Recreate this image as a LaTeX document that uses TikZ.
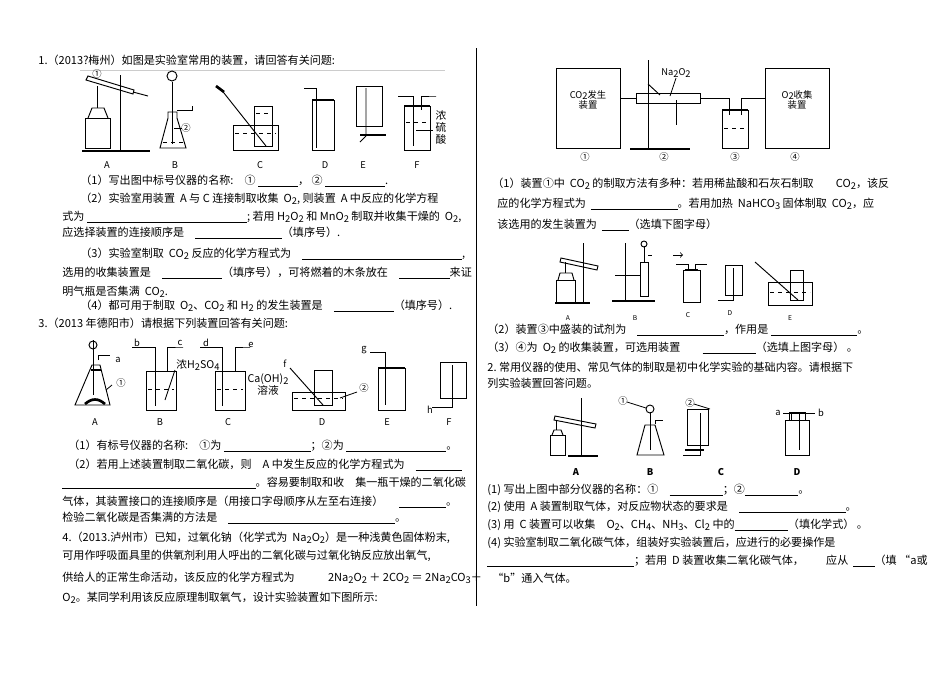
\documentclass[tikz,border=0pt]{standalone}
\usepackage{fontspec}
\setmainfont{Noto Sans CJK SC}
\newcommand{\sbs}[1]{\raisebox{-0.35ex}{\scriptsize #1}}
\newcommand{\blank}[1]{\rule[-1.5pt]{#1pt}{0.4pt}}
\begin{document}
\begin{tikzpicture}[x=0.75pt,y=-0.75pt,line width=0.6pt,
  t/.style={anchor=west,inner sep=0pt,font=\fontsize{8.3pt}{9pt}\selectfont},
  lb/.style={inner sep=0pt,font=\fontsize{7pt}{8pt}\selectfont},
  app/.style={draw=black,line width=0.7pt},
  liq/.style={draw=black,line width=0.3pt,dashed}]
\useasboundingbox (0,0) rectangle (950,672);
\draw[line width=0.6pt] (476,48) -- (476,606);
% ---------- left column text ----------
\node[t] (l1) at (38,60) {1.（2013?梅州）如图是实验室常用的装置，请回答有关问题:};
\draw[gray!40] (80,70) -- (445,70);
\node[t] at (80,181) {（1）写出图中标号仪器的名称:\quad ① \blank{30}， ② \blank{45}.};
\node[t] at (80,199) {（2）实验室用装置\ \ A 与 C 连接制取收集\ \ O\sbs2, 则装置\ \ A 中反应的化学方程};
\node[t] at (62,217) {式为 \blank{120}; 若用 H\sbs2O\sbs2 和 MnO\sbs2 制取并收集干燥的\ \ O\sbs2,};
\node[t] at (62,233) {应选择装置的连接顺序是\quad \blank{65}（填序号）.};
\node[t] at (80,254) {（3）实验室制取\ \ CO\sbs2 反应的化学方程式为\quad \blank{120},};
\node[t] at (62,273) {选用的收集装置是\quad \blank{45}（填序号），可将燃着的木条放在\quad \blank{38}来证};
\node[t] at (62,292) {明气瓶是否集满\ \ CO\sbs2.};
\node[t] at (80,306) {（4）都可用于制取\ \ O\sbs2、CO\sbs2 和 H\sbs2 的发生装置是\quad \blank{45}（填序号）.};
\node[t] at (38,323) {3.（2013 年德阳市）请根据下列装置回答有关问题:};
\node[t] at (68,446) {（1）有标号仪器的名称:\quad ①为 \blank{65}；②为 \blank{75}。};
\node[t] at (68,465) {（2）若用上述装置制取二氧化碳，则\quad A 中发生反应的化学方程式为\quad \blank{35}};
\node[t] at (62,483) {\blank{145}。容易要制取和收\quad 集一瓶干燥的二氧化碳};
\node[t] at (62,502) {气体，其装置接口的连接顺序是（用接口字母顺序从左至右连接）\quad\ \ \blank{35}。};
\node[t] at (62,518) {检验二氧化碳是否集满的方法是\quad \blank{125}。};
\node[t] at (62,538) {4.（2013.泸州市）已知，过氧化钠（化学式为\ \ Na\sbs2O\sbs2）是一种浅黄色固体粉末,};
\node[t] at (62,556) {可用作呼吸面具里的供氧剂利用人呼出的二氧化碳与过氧化钠反应放出氧气,};
\node[t] at (62,578) {供给人的正常生命活动，该反应的化学方程式为\qquad\quad 2Na\sbs2O\sbs2 ＋ 2CO\sbs2 ＝ 2Na\sbs2CO\sbs3＋};
\node[t] at (62,598) {O\sbs2。某同学利用该反应原理制取氧气，设计实验装置如下图所示:};
% ---------- figure 1 ----------
\draw[app] (120,75) -- (120,150); \draw[app,line width=1.5pt] (82,151) -- (150,151);
\draw[app] (85,118) rectangle (110,148); \draw[app] (88,118) -- (92,108) -- (104,108) -- (108,118);
\draw[app] (86,80) -- (133,94) -- (134,90) -- (88,76) -- cycle; \draw[app] (133,92) -- (148,96);
\draw[app] (97,86) -- (97,108); \node[lb] at (97,74) {①};
\node[lb] at (107,165) {A};
\draw[app] (168,118) -- (168,112) -- (177,112) -- (177,118) -- (186,148) -- (160,148) -- (168,118);
\draw[app] (172,82) -- (172,144); \draw[app] (172,76) circle (5);
\draw[app] (177,110) -- (192,110) -- (192,106);
\draw[liq] (163,142) -- (183,142); \draw (174,128) -- (182,128); \node[lb] at (186,128) {②};
\node[lb] at (175,165) {B};
\draw[app] (233,125) rectangle (278,150); \draw[liq] (235,133) -- (276,133);
\draw[app] (254,106) rectangle (272,146); \draw[liq] (256,113) -- (270,113);
\draw[app] (220,88) -- (266,146); \draw[app,line width=2pt] (216,86) -- (224,92);
\node[lb] at (260,165) {C};
\draw[app] (312,100) rectangle (334,150); \draw[app,line width=1.5pt] (312,100) -- (334,100);
\draw[app] (304,88) -- (316,88) -- (316,148);
\node[lb] at (325,165) {D};
\draw[app] (356,86) rectangle (382,126); \draw[app] (366,88) -- (366,136) -- (360,142);
\draw[app,line width=1.5pt] (360,135) -- (386,135);
\node[lb] at (363,165) {E};
\draw[app] (404,106) rectangle (430,150); \draw[app,line width=1.5pt] (404,106) -- (430,106);
\draw[app] (398,96) -- (413,96) -- (413,146); \draw[app] (421,96) -- (436,96) -- (421,96) -- (421,110);
\draw[liq] (406,122) -- (428,122); \draw (416,130) -- (433,130);
\node[lb,font=\fontsize{8pt}{9pt}\selectfont,align=center] at (441,127) {浓\\硫\\酸};
\node[lb] at (417,165) {F};
% ---------- figure 3 ----------
\draw[app] (92,365) -- (75,405) -- (110,405) -- (100,365) -- cycle;
\draw[app,line width=2pt] (91,370) -- (101,370);
\draw[app] (93,340) -- (93,395); \draw[app] (93,345) circle (4); \draw[app] (98,360) -- (98,355) -- (110,355);
\draw[app,line width=2pt] (85,404) .. controls (92,398) and (98,398) .. (105,404);
\node[lb] at (118,360) {a}; \node[lb] at (121,383) {①}; \draw (112,385) -- (106,390);
\node[lb] at (95,422) {A};
\draw[app] (146,371) rectangle (176,410); \draw[liq] (148,389) -- (174,389);
\draw[app] (132,347) -- (155,347) -- (155,406); \draw[app] (167,347) -- (183,347) -- (167,347) -- (167,371);
\node[lb] at (137,343) {b}; \node[lb] at (180,343) {c}; \node[lb,font=\fontsize{8pt}{9pt}\selectfont] at (198,365) {浓H\sbs2SO\sbs4};
\draw (175,370) -- (165,400);
\node[lb] at (160,422) {B};
\draw[app] (215,371) rectangle (245,410); \draw[liq] (217,389) -- (243,389);
\draw[app] (200,347) -- (222,347) -- (222,406); \draw[app] (235,347) -- (250,347) -- (235,347) -- (235,371);
\node[lb] at (206,343) {d}; \node[lb] at (251,345) {e};
\node[lb,font=\fontsize{8pt}{9pt}\selectfont,align=center] at (268,385) {Ca(OH)\sbs2\\溶液};
\node[lb] at (228,422) {C};
\draw[app] (292,392) rectangle (345,410); \draw[liq] (294,398) -- (343,398);
\draw[app] (314,370) rectangle (332,405); \draw[app] (290,368) -- (323,405);
\node[lb] at (285,364) {f}; \node[lb] at (364,388) {②}; \draw (357,392) -- (340,398);
\node[lb] at (322,422) {D};
\draw[app] (378,368) rectangle (405,410); \draw[app,line width=1.5pt] (378,368) -- (405,368);
\draw[app] (370,352) -- (385,352) -- (385,405); \node[lb] at (364,350) {g};
\node[lb] at (387,422) {E};
\draw[app] (440,362) rectangle (466,398); \draw[app] (452,365) -- (452,407) -- (432,407);
\node[lb] at (430,410) {h}; \node[lb] at (449,422) {F};
% ---------- right column figure top ----------
\draw[app] (556,68) rectangle (620,148);
\node[lb,align=center,font=\fontsize{7pt}{8pt}\selectfont] at (588,100) {CO\sbs2发生\\装置};
\draw[app] (765,68) rectangle (829,148);
\node[lb,align=center,font=\fontsize{7pt}{8pt}\selectfont] at (797,100) {O\sbs2收集\\装置};
\draw[app] (620,98) -- (636,98); \draw[app] (636,93) rectangle (700,103); \draw[app] (700,98) -- (729,98) -- (729,115);
\draw[app] (741,115) -- (741,98) -- (765,98);
\draw[app] (648,60) -- (648,148); \draw[app,line width=1.5pt] (630,149) -- (690,149);
\draw[app] (648,84) -- (660,95); \draw[app] (676,100) -- (676,125);
\node[lb] at (676,73) {Na\sbs2O\sbs2}; \draw (676,78) -- (670,96);
\draw[app] (722,110) rectangle (748,148); \draw[app,line width=1.8pt] (722,110) -- (748,110); \draw[liq] (724,128) -- (746,128);
\node[lb] at (585,157) {①}; \node[lb] at (664,157) {②}; \node[lb] at (735,157) {③}; \node[lb] at (795,157) {④};
\node[t] at (492,184) {（1）装置①中\ \ CO\sbs2 的制取方法有多种：若用稀盐酸和石灰石制取\qquad CO\sbs2，该反};
\node[t] at (497,204) {应的化学方程式为\ \ \blank{65}。若用加热\ \ NaHCO\sbs3 固体制取\ \ CO\sbs2，应};
\node[t] at (497,225) {该选用的发生装置为\ \ \blank{20}（选填下图字母）};
% right middle figure
\draw[app] (583,243) -- (583,302); \draw[app,line width=1.2pt] (555,303) -- (590,303);
\draw[app] (556,280) rectangle (575,302); \draw[app] (558,280) -- (560,273) -- (572,273) -- (574,280);
\draw[app] (560,262) -- (597,270) -- (598,266) -- (561,258) -- cycle; \draw[app] (565,262) -- (565,273);
\node[lb,font=\fontsize{5pt}{6pt}\selectfont] at (568,318) {A};
\draw[app] (625,243) -- (625,300); \draw[app,line width=1.2pt] (612,301) -- (655,301);
\draw[app] (640,262) rectangle (648,296); \draw[app] (644,246) -- (644,262); \draw[app] (644,244) circle (3);
\draw[app] (615,275) -- (640,275); \draw[app] (648,255) -- (652,255);
\node[lb,font=\fontsize{5pt}{6pt}\selectfont] at (635,318) {B};
\draw[app] (683,270) rectangle (700,302); \draw[app,line width=2pt] (685,270) -- (698,270);
\draw[app] (676,264) -- (688,264) -- (688,270); \draw[app] (695,270) -- (695,264) -- (707,264);
\draw[->] (673,255) -- (683,255);
\node[lb,font=\fontsize{5pt}{6pt}\selectfont] at (688,315) {C};
\draw[app] (725,265) rectangle (742,295); \draw[app] (733,268) -- (733,300) -- (718,300);
\node[lb,font=\fontsize{5pt}{6pt}\selectfont] at (730,313) {D};
\draw[app] (768,282) rectangle (812,305); \draw[liq] (770,292) -- (810,292);
\draw[app] (790,270) rectangle (803,300); \draw[app] (755,262) -- (798,300);
\node[lb,font=\fontsize{5pt}{6pt}\selectfont] at (790,318) {E};
\node[t] at (487,330) {（2）装置③中盛装的试剂为\quad \blank{65}，作用是\ \blank{65}。};
\node[t] at (487,348) {（3）④为\ \ O\sbs2 的收集装置，可选用装置\qquad \blank{40}（选填上图字母）\ 。};
\node[t] at (487,367) {2.\ 常用仪器的使用、常见气体的制取是初中化学实验的基础内容。请根据下};
\node[t] at (487,383) {列实验装置回答问题。};
% right bottom figure
\draw[app] (581,398) -- (581,455); \draw[app,line width=1.5pt] (568,456) -- (598,456);
\draw[app] (550,435) rectangle (565,455); \draw[app] (552,435) -- (554,430) -- (561,430) -- (563,435);
\draw[app] (554,420) -- (595,428) -- (596,424) -- (555,416) -- cycle; \draw[app] (556,420) -- (556,430);
\node[lb,font=\fontsize{7pt}{8pt}\selectfont\bfseries] at (576,472) {A};
\draw[app] (645,425) -- (637,455) -- (664,455) -- (655,425) -- cycle;
\draw[app] (650,412) -- (650,450); \draw[app] (650,409) circle (4); \draw[app] (655,424) -- (655,420) -- (663,420);
\node[lb] at (623,401) {①}; \draw (627,402) -- (646,408);
\node[lb,font=\fontsize{7pt}{8pt}\selectfont\bfseries] at (650,472) {B};
\draw[app] (687,409) rectangle (708,445); \draw[app] (700,413) -- (700,455) -- (683,455);
\draw[app,line width=1.5pt] (685,450) -- (704,450);
\node[lb] at (690,403) {②}; \draw (694,404) -- (710,409);
\node[lb,font=\fontsize{7pt}{8pt}\selectfont\bfseries] at (721,472) {C};
\draw[app] (785,420) rectangle (809,455); \draw[app] (789,412) rectangle (805,420);
\draw[app] (783,413) -- (803,413); \draw[app] (791,413) -- (791,420); \draw[app] (799,413) -- (815,413); \draw[app] (799,413) -- (799,450);
\node[lb] at (778,413) {a}; \node[lb] at (821,413) {b};
\node[lb,font=\fontsize{7pt}{8pt}\selectfont\bfseries] at (797,472) {D};
\node[t] at (487,490) {(1)\ 写出上图中部分仪器的名称：①\quad \blank{40}；②\blank{40}。};
\node[t] at (487,507) {(2)\ 使用\ \ A 装置制取气体，对反应物状态的要求是\quad \blank{80}。};
\node[t] at (487,525) {(3)\ 用\ \ C 装置可以收集\quad O\sbs2、CH\sbs4、NH\sbs3、Cl\sbs2 中的\blank{40}（填化学式）\ 。};
\node[t] at (487,543) {(4)\ 实验室制取二氧化碳气体，组装好实验装置后，应进行的必要操作是};
\node[t] at (487,561) {\blank{110}；若用\ \ D 装置收集二氧化碳气体，\qquad 应从\ \ \blank{16}（填\ “a或};
\node[t] at (492,578) {“b”通入气体。};
\end{tikzpicture}
\end{document}
